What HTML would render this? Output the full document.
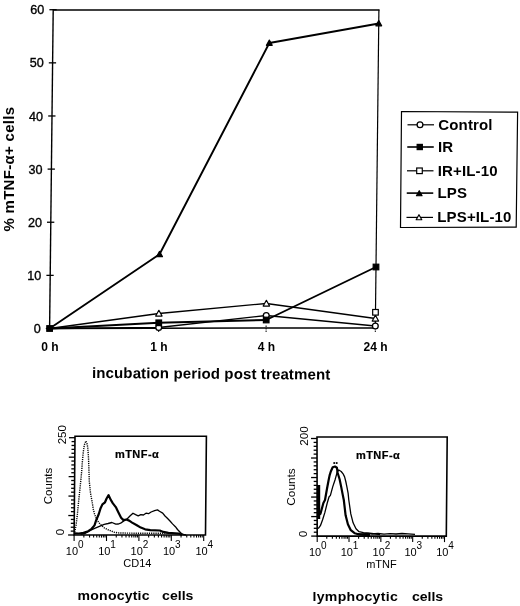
<!DOCTYPE html>
<html><head><meta charset="utf-8"><style>
html,body{margin:0;padding:0;background:#fff;}
body{width:520px;height:606px;overflow:hidden;}
svg{display:block;filter:grayscale(1);font-family:"Liberation Sans", sans-serif;}
</style></head><body>
<svg width="520" height="606" viewBox="0 0 520 606" fill="#000">
<line x1="53.21" y1="9.10" x2="49.60" y2="328.50" stroke="#000" stroke-width="1.4" />
<line x1="53.20" y1="10.00" x2="379.50" y2="10.00" stroke="#000" stroke-width="1.7" />
<line x1="378.90" y1="9.70" x2="375.30" y2="328.50" stroke="#000" stroke-width="1.2" />
<line x1="49.60" y1="328.50" x2="373.30" y2="327.90" stroke="#000" stroke-width="1.5" />
<line x1="45.80" y1="328.50" x2="53.10" y2="328.50" stroke="#000" stroke-width="1.3" />
<line x1="46.40" y1="275.37" x2="53.70" y2="275.37" stroke="#000" stroke-width="1.3" />
<line x1="47.00" y1="222.24" x2="54.30" y2="222.24" stroke="#000" stroke-width="1.3" />
<line x1="47.60" y1="169.11" x2="54.90" y2="169.11" stroke="#000" stroke-width="1.3" />
<line x1="48.20" y1="115.98" x2="55.50" y2="115.98" stroke="#000" stroke-width="1.3" />
<line x1="48.80" y1="62.85" x2="56.10" y2="62.85" stroke="#000" stroke-width="1.3" />
<line x1="49.40" y1="9.72" x2="56.70" y2="9.72" stroke="#000" stroke-width="1.3" />
<line x1="158.70" y1="325.50" x2="158.70" y2="332.50" stroke="#000" stroke-width="1.0" stroke-dasharray="1.5,1"/>
<line x1="266.10" y1="325.50" x2="266.10" y2="332.50" stroke="#000" stroke-width="1.0" stroke-dasharray="1.5,1"/>
<line x1="375.30" y1="325.50" x2="375.30" y2="332.50" stroke="#000" stroke-width="1.0" stroke-dasharray="1.5,1"/>
<polyline points="49.60,328.50 158.71,327.50 266.25,315.50 375.33,326.00" fill="none" stroke="#000" stroke-width="1.3" stroke-linejoin="round" />
<polyline points="49.60,328.50 158.87,313.50 266.38,303.50 375.41,318.50" fill="none" stroke="#000" stroke-width="1.3" stroke-linejoin="round" />
<polyline points="49.60,328.50 158.76,322.80 266.20,320.00 375.99,267.00" fill="none" stroke="#000" stroke-width="1.9" stroke-linejoin="round" />
<polyline points="49.60,328.50 159.54,254.30 269.33,43.00 378.75,23.50" fill="none" stroke="#000" stroke-width="1.9" stroke-linejoin="round" />
<circle cx="158.71" cy="327.50" r="2.9" fill="#fff" stroke="#000" stroke-width="1.3"/>
<circle cx="266.25" cy="315.50" r="2.9" fill="#fff" stroke="#000" stroke-width="1.3"/>
<circle cx="375.33" cy="326.00" r="2.9" fill="#fff" stroke="#000" stroke-width="1.3"/>
<polygon points="158.87,310.30 162.07,316.06 155.67,316.06" fill="#fff" stroke="#000" stroke-width="1.2" stroke-linejoin="round"/>
<polygon points="266.38,300.30 269.58,306.06 263.18,306.06" fill="#fff" stroke="#000" stroke-width="1.2" stroke-linejoin="round"/>
<polygon points="375.41,315.30 378.61,321.06 372.21,321.06" fill="#fff" stroke="#000" stroke-width="1.2" stroke-linejoin="round"/>
<rect x="155.96" y="320.00" width="5.6" height="5.6" fill="#000" stroke="#000" stroke-width="1.2"/>
<rect x="263.40" y="317.20" width="5.6" height="5.6" fill="#000" stroke="#000" stroke-width="1.2"/>
<rect x="373.19" y="264.20" width="5.6" height="5.6" fill="#000" stroke="#000" stroke-width="1.2"/>
<polygon points="159.54,251.40 162.44,256.62 156.64,256.62" fill="#000" stroke="#000" stroke-width="1.2" stroke-linejoin="round"/>
<polygon points="269.33,40.10 272.23,45.32 266.43,45.32" fill="#000" stroke="#000" stroke-width="1.2" stroke-linejoin="round"/>
<polygon points="378.75,20.60 381.65,25.82 375.85,25.82" fill="#000" stroke="#000" stroke-width="1.2" stroke-linejoin="round"/>
<rect x="372.68" y="309.50" width="5.6" height="5.6" fill="#fff" stroke="#000" stroke-width="1.2"/>
<rect x="46.80" y="325.70" width="5.6" height="5.6" fill="#000" stroke="#000" stroke-width="1.2"/>
<text x="40.70" y="333.10" text-anchor="end" font-size="12.6" stroke="#000" stroke-width="0.35">0</text>
<text x="41.30" y="279.97" text-anchor="end" font-size="12.6" stroke="#000" stroke-width="0.35">10</text>
<text x="41.90" y="226.84" text-anchor="end" font-size="12.6" stroke="#000" stroke-width="0.35">20</text>
<text x="42.50" y="173.71" text-anchor="end" font-size="12.6" stroke="#000" stroke-width="0.35">30</text>
<text x="43.10" y="120.58" text-anchor="end" font-size="12.6" stroke="#000" stroke-width="0.35">40</text>
<text x="43.70" y="67.45" text-anchor="end" font-size="12.6" stroke="#000" stroke-width="0.35">50</text>
<text x="44.30" y="14.32" text-anchor="end" font-size="12.6" stroke="#000" stroke-width="0.35">60</text>
<text x="49.90" y="351" text-anchor="middle" font-size="12" font-weight="bold">0 h</text>
<text x="159.00" y="351" text-anchor="middle" font-size="12" font-weight="bold">1 h</text>
<text x="266.40" y="351" text-anchor="middle" font-size="12" font-weight="bold">4 h</text>
<text x="375.60" y="351" text-anchor="middle" font-size="12" font-weight="bold">24 h</text>
<text x="92" y="378.75" transform="rotate(0.42 211 378.75)" font-size="15" font-weight="bold" letter-spacing="0.13">incubation period post treatment</text>
<text transform="translate(13.9,231.6) rotate(-90)" font-size="15" font-weight="bold" letter-spacing="0.3">% mTNF-α+ cells</text>
<polygon points="401.5,111.5 517.6,112.2 516.2,227.2 400.5,227.5" fill="none" stroke="#000" stroke-width="1.2"/>
<line x1="407.50" y1="124.80" x2="434.00" y2="124.80" stroke="#000" stroke-width="1.2" />
<circle cx="420.00" cy="124.80" r="2.9" fill="#fff" stroke="#000" stroke-width="1.3"/>
<text x="438.30" y="129.50" font-size="15" font-weight="bold" letter-spacing="0.15">Control</text>
<line x1="407.26" y1="147.00" x2="433.76" y2="147.00" stroke="#000" stroke-width="1.6" />
<rect x="417.16" y="144.40" width="5.2" height="5.2" fill="#000" stroke="#000" stroke-width="1.2"/>
<text x="438.06" y="151.70" font-size="15" font-weight="bold" letter-spacing="0.15">IR</text>
<line x1="406.99" y1="170.80" x2="433.49" y2="170.80" stroke="#000" stroke-width="1.2" />
<rect x="416.69" y="168.00" width="5.6" height="5.6" fill="#fff" stroke="#000" stroke-width="1.2"/>
<text x="437.79" y="175.50" font-size="15" font-weight="bold" letter-spacing="0.15">IR+IL-10</text>
<line x1="406.75" y1="193.10" x2="433.25" y2="193.10" stroke="#000" stroke-width="1.6" />
<polygon points="419.25,190.70 422.05,195.74 416.45,195.74" fill="#000" stroke="#000" stroke-width="1.2" stroke-linejoin="round"/>
<text x="437.55" y="197.80" font-size="15" font-weight="bold" letter-spacing="0.15">LPS</text>
<line x1="406.48" y1="217.40" x2="432.98" y2="217.40" stroke="#000" stroke-width="1.2" />
<polygon points="418.98,214.70 421.78,219.74 416.18,219.74" fill="#fff" stroke="#000" stroke-width="1.2" stroke-linejoin="round"/>
<text x="437.28" y="222.10" font-size="15" font-weight="bold" letter-spacing="0.15">LPS+IL-10</text>
<polygon points="75.00,436.2 206.40,436.2 205.50,535.0 74.10,535.0" fill="none" stroke="#000" stroke-width="1.6"/>
<line x1="68.10" y1="535.00" x2="74.10" y2="535.00" stroke="#000" stroke-width="1.3" />
<line x1="70.74" y1="531.11" x2="74.14" y2="531.11" stroke="#000" stroke-width="1.3" />
<line x1="70.77" y1="527.22" x2="74.17" y2="527.22" stroke="#000" stroke-width="1.3" />
<line x1="70.81" y1="523.32" x2="74.21" y2="523.32" stroke="#000" stroke-width="1.3" />
<line x1="70.84" y1="519.43" x2="74.24" y2="519.43" stroke="#000" stroke-width="1.3" />
<line x1="68.28" y1="515.54" x2="74.28" y2="515.54" stroke="#000" stroke-width="1.3" />
<line x1="70.91" y1="511.65" x2="74.31" y2="511.65" stroke="#000" stroke-width="1.3" />
<line x1="70.95" y1="507.76" x2="74.35" y2="507.76" stroke="#000" stroke-width="1.3" />
<line x1="70.98" y1="503.86" x2="74.38" y2="503.86" stroke="#000" stroke-width="1.3" />
<line x1="71.02" y1="499.97" x2="74.42" y2="499.97" stroke="#000" stroke-width="1.3" />
<line x1="68.45" y1="496.08" x2="74.45" y2="496.08" stroke="#000" stroke-width="1.3" />
<line x1="71.09" y1="492.19" x2="74.49" y2="492.19" stroke="#000" stroke-width="1.3" />
<line x1="71.13" y1="488.30" x2="74.53" y2="488.30" stroke="#000" stroke-width="1.3" />
<line x1="71.16" y1="484.40" x2="74.56" y2="484.40" stroke="#000" stroke-width="1.3" />
<line x1="71.20" y1="480.51" x2="74.60" y2="480.51" stroke="#000" stroke-width="1.3" />
<line x1="68.63" y1="476.62" x2="74.63" y2="476.62" stroke="#000" stroke-width="1.3" />
<line x1="71.27" y1="472.73" x2="74.67" y2="472.73" stroke="#000" stroke-width="1.3" />
<line x1="71.30" y1="468.84" x2="74.70" y2="468.84" stroke="#000" stroke-width="1.3" />
<line x1="71.34" y1="464.94" x2="74.74" y2="464.94" stroke="#000" stroke-width="1.3" />
<line x1="71.37" y1="461.05" x2="74.77" y2="461.05" stroke="#000" stroke-width="1.3" />
<line x1="68.81" y1="457.16" x2="74.81" y2="457.16" stroke="#000" stroke-width="1.3" />
<line x1="71.44" y1="453.27" x2="74.84" y2="453.27" stroke="#000" stroke-width="1.3" />
<line x1="71.48" y1="449.38" x2="74.88" y2="449.38" stroke="#000" stroke-width="1.3" />
<line x1="71.52" y1="445.48" x2="74.92" y2="445.48" stroke="#000" stroke-width="1.3" />
<line x1="71.55" y1="441.59" x2="74.95" y2="441.59" stroke="#000" stroke-width="1.3" />
<line x1="68.99" y1="437.70" x2="74.99" y2="437.70" stroke="#000" stroke-width="1.3" />
<line x1="74.10" y1="535.00" x2="74.10" y2="541.00" stroke="#000" stroke-width="1.1" />
<line x1="83.85" y1="535.00" x2="83.85" y2="537.60" stroke="#000" stroke-width="1.1" />
<line x1="89.56" y1="535.00" x2="89.56" y2="537.60" stroke="#000" stroke-width="1.1" />
<line x1="93.61" y1="535.00" x2="93.61" y2="537.60" stroke="#000" stroke-width="1.1" />
<line x1="96.75" y1="535.00" x2="96.75" y2="537.60" stroke="#000" stroke-width="1.1" />
<line x1="99.31" y1="535.00" x2="99.31" y2="537.60" stroke="#000" stroke-width="1.1" />
<line x1="101.48" y1="535.00" x2="101.48" y2="537.60" stroke="#000" stroke-width="1.1" />
<line x1="103.36" y1="535.00" x2="103.36" y2="537.60" stroke="#000" stroke-width="1.1" />
<line x1="105.02" y1="535.00" x2="105.02" y2="537.60" stroke="#000" stroke-width="1.1" />
<line x1="106.50" y1="535.00" x2="106.50" y2="541.00" stroke="#000" stroke-width="1.1" />
<line x1="116.25" y1="535.00" x2="116.25" y2="537.60" stroke="#000" stroke-width="1.1" />
<line x1="121.96" y1="535.00" x2="121.96" y2="537.60" stroke="#000" stroke-width="1.1" />
<line x1="126.01" y1="535.00" x2="126.01" y2="537.60" stroke="#000" stroke-width="1.1" />
<line x1="129.15" y1="535.00" x2="129.15" y2="537.60" stroke="#000" stroke-width="1.1" />
<line x1="131.71" y1="535.00" x2="131.71" y2="537.60" stroke="#000" stroke-width="1.1" />
<line x1="133.88" y1="535.00" x2="133.88" y2="537.60" stroke="#000" stroke-width="1.1" />
<line x1="135.76" y1="535.00" x2="135.76" y2="537.60" stroke="#000" stroke-width="1.1" />
<line x1="137.42" y1="535.00" x2="137.42" y2="537.60" stroke="#000" stroke-width="1.1" />
<line x1="138.90" y1="535.00" x2="138.90" y2="541.00" stroke="#000" stroke-width="1.1" />
<line x1="148.65" y1="535.00" x2="148.65" y2="537.60" stroke="#000" stroke-width="1.1" />
<line x1="154.36" y1="535.00" x2="154.36" y2="537.60" stroke="#000" stroke-width="1.1" />
<line x1="158.41" y1="535.00" x2="158.41" y2="537.60" stroke="#000" stroke-width="1.1" />
<line x1="161.55" y1="535.00" x2="161.55" y2="537.60" stroke="#000" stroke-width="1.1" />
<line x1="164.11" y1="535.00" x2="164.11" y2="537.60" stroke="#000" stroke-width="1.1" />
<line x1="166.28" y1="535.00" x2="166.28" y2="537.60" stroke="#000" stroke-width="1.1" />
<line x1="168.16" y1="535.00" x2="168.16" y2="537.60" stroke="#000" stroke-width="1.1" />
<line x1="169.82" y1="535.00" x2="169.82" y2="537.60" stroke="#000" stroke-width="1.1" />
<line x1="171.30" y1="535.00" x2="171.30" y2="541.00" stroke="#000" stroke-width="1.1" />
<line x1="181.05" y1="535.00" x2="181.05" y2="537.60" stroke="#000" stroke-width="1.1" />
<line x1="186.76" y1="535.00" x2="186.76" y2="537.60" stroke="#000" stroke-width="1.1" />
<line x1="190.81" y1="535.00" x2="190.81" y2="537.60" stroke="#000" stroke-width="1.1" />
<line x1="193.95" y1="535.00" x2="193.95" y2="537.60" stroke="#000" stroke-width="1.1" />
<line x1="196.51" y1="535.00" x2="196.51" y2="537.60" stroke="#000" stroke-width="1.1" />
<line x1="198.68" y1="535.00" x2="198.68" y2="537.60" stroke="#000" stroke-width="1.1" />
<line x1="200.56" y1="535.00" x2="200.56" y2="537.60" stroke="#000" stroke-width="1.1" />
<line x1="202.22" y1="535.00" x2="202.22" y2="537.60" stroke="#000" stroke-width="1.1" />
<line x1="203.70" y1="535.00" x2="203.70" y2="541.00" stroke="#000" stroke-width="1.1" />
<text x="65.80" y="555.00" font-size="11">10</text>
<text x="77.90" y="547.80" font-size="10">0</text>
<text x="98.20" y="555.00" font-size="11">10</text>
<text x="110.30" y="547.80" font-size="10">1</text>
<text x="130.60" y="555.00" font-size="11">10</text>
<text x="142.70" y="547.80" font-size="10">2</text>
<text x="163.00" y="555.00" font-size="11">10</text>
<text x="175.10" y="547.80" font-size="10">3</text>
<text x="195.40" y="555.00" font-size="11">10</text>
<text x="207.50" y="547.80" font-size="10">4</text>
<text x="123.3" y="566.70" font-size="11">CD14</text>
<text transform="translate(65.60,434.70) rotate(-90)" text-anchor="middle" font-size="11.5">250</text>
<text transform="translate(63.70,532.00) rotate(-90)" text-anchor="middle" font-size="11.5">0</text>
<text transform="translate(52.40,486.00) rotate(-90)" text-anchor="middle" font-size="11.5">Counts</text>
<text transform="translate(115,458.00) scale(1.1,1)" font-size="10" font-weight="bold" letter-spacing="0.4" stroke="#000" stroke-width="0.2">mTNF-α</text>
<polygon points="317.00,437.0 447.20,437.0 446.30,536.1 317.20,536.1" fill="none" stroke="#000" stroke-width="1.6"/>
<line x1="311.20" y1="536.10" x2="317.20" y2="536.10" stroke="#000" stroke-width="1.3" />
<line x1="313.79" y1="532.20" x2="317.19" y2="532.20" stroke="#000" stroke-width="1.3" />
<line x1="313.78" y1="528.29" x2="317.18" y2="528.29" stroke="#000" stroke-width="1.3" />
<line x1="313.78" y1="524.39" x2="317.18" y2="524.39" stroke="#000" stroke-width="1.3" />
<line x1="313.77" y1="520.48" x2="317.17" y2="520.48" stroke="#000" stroke-width="1.3" />
<line x1="311.16" y1="516.58" x2="317.16" y2="516.58" stroke="#000" stroke-width="1.3" />
<line x1="313.75" y1="512.68" x2="317.15" y2="512.68" stroke="#000" stroke-width="1.3" />
<line x1="313.74" y1="508.77" x2="317.14" y2="508.77" stroke="#000" stroke-width="1.3" />
<line x1="313.74" y1="504.87" x2="317.14" y2="504.87" stroke="#000" stroke-width="1.3" />
<line x1="313.73" y1="500.96" x2="317.13" y2="500.96" stroke="#000" stroke-width="1.3" />
<line x1="311.12" y1="497.06" x2="317.12" y2="497.06" stroke="#000" stroke-width="1.3" />
<line x1="313.71" y1="493.16" x2="317.11" y2="493.16" stroke="#000" stroke-width="1.3" />
<line x1="313.71" y1="489.25" x2="317.11" y2="489.25" stroke="#000" stroke-width="1.3" />
<line x1="313.70" y1="485.35" x2="317.10" y2="485.35" stroke="#000" stroke-width="1.3" />
<line x1="313.69" y1="481.44" x2="317.09" y2="481.44" stroke="#000" stroke-width="1.3" />
<line x1="311.08" y1="477.54" x2="317.08" y2="477.54" stroke="#000" stroke-width="1.3" />
<line x1="313.67" y1="473.64" x2="317.07" y2="473.64" stroke="#000" stroke-width="1.3" />
<line x1="313.67" y1="469.73" x2="317.07" y2="469.73" stroke="#000" stroke-width="1.3" />
<line x1="313.66" y1="465.83" x2="317.06" y2="465.83" stroke="#000" stroke-width="1.3" />
<line x1="313.65" y1="461.92" x2="317.05" y2="461.92" stroke="#000" stroke-width="1.3" />
<line x1="311.04" y1="458.02" x2="317.04" y2="458.02" stroke="#000" stroke-width="1.3" />
<line x1="313.63" y1="454.12" x2="317.03" y2="454.12" stroke="#000" stroke-width="1.3" />
<line x1="313.63" y1="450.21" x2="317.03" y2="450.21" stroke="#000" stroke-width="1.3" />
<line x1="313.62" y1="446.31" x2="317.02" y2="446.31" stroke="#000" stroke-width="1.3" />
<line x1="313.61" y1="442.40" x2="317.01" y2="442.40" stroke="#000" stroke-width="1.3" />
<line x1="311.00" y1="438.50" x2="317.00" y2="438.50" stroke="#000" stroke-width="1.3" />
<line x1="317.20" y1="536.10" x2="317.20" y2="542.10" stroke="#000" stroke-width="1.1" />
<line x1="326.78" y1="536.10" x2="326.78" y2="538.70" stroke="#000" stroke-width="1.1" />
<line x1="332.38" y1="536.10" x2="332.38" y2="538.70" stroke="#000" stroke-width="1.1" />
<line x1="336.36" y1="536.10" x2="336.36" y2="538.70" stroke="#000" stroke-width="1.1" />
<line x1="339.44" y1="536.10" x2="339.44" y2="538.70" stroke="#000" stroke-width="1.1" />
<line x1="341.96" y1="536.10" x2="341.96" y2="538.70" stroke="#000" stroke-width="1.1" />
<line x1="344.10" y1="536.10" x2="344.10" y2="538.70" stroke="#000" stroke-width="1.1" />
<line x1="345.94" y1="536.10" x2="345.94" y2="538.70" stroke="#000" stroke-width="1.1" />
<line x1="347.57" y1="536.10" x2="347.57" y2="538.70" stroke="#000" stroke-width="1.1" />
<line x1="349.02" y1="536.10" x2="349.02" y2="542.10" stroke="#000" stroke-width="1.1" />
<line x1="358.61" y1="536.10" x2="358.61" y2="538.70" stroke="#000" stroke-width="1.1" />
<line x1="364.21" y1="536.10" x2="364.21" y2="538.70" stroke="#000" stroke-width="1.1" />
<line x1="368.19" y1="536.10" x2="368.19" y2="538.70" stroke="#000" stroke-width="1.1" />
<line x1="371.27" y1="536.10" x2="371.27" y2="538.70" stroke="#000" stroke-width="1.1" />
<line x1="373.79" y1="536.10" x2="373.79" y2="538.70" stroke="#000" stroke-width="1.1" />
<line x1="375.92" y1="536.10" x2="375.92" y2="538.70" stroke="#000" stroke-width="1.1" />
<line x1="377.77" y1="536.10" x2="377.77" y2="538.70" stroke="#000" stroke-width="1.1" />
<line x1="379.39" y1="536.10" x2="379.39" y2="538.70" stroke="#000" stroke-width="1.1" />
<line x1="380.85" y1="536.10" x2="380.85" y2="542.10" stroke="#000" stroke-width="1.1" />
<line x1="390.43" y1="536.10" x2="390.43" y2="538.70" stroke="#000" stroke-width="1.1" />
<line x1="396.03" y1="536.10" x2="396.03" y2="538.70" stroke="#000" stroke-width="1.1" />
<line x1="400.01" y1="536.10" x2="400.01" y2="538.70" stroke="#000" stroke-width="1.1" />
<line x1="403.09" y1="536.10" x2="403.09" y2="538.70" stroke="#000" stroke-width="1.1" />
<line x1="405.61" y1="536.10" x2="405.61" y2="538.70" stroke="#000" stroke-width="1.1" />
<line x1="407.75" y1="536.10" x2="407.75" y2="538.70" stroke="#000" stroke-width="1.1" />
<line x1="409.59" y1="536.10" x2="409.59" y2="538.70" stroke="#000" stroke-width="1.1" />
<line x1="411.22" y1="536.10" x2="411.22" y2="538.70" stroke="#000" stroke-width="1.1" />
<line x1="412.68" y1="536.10" x2="412.68" y2="542.10" stroke="#000" stroke-width="1.1" />
<line x1="422.26" y1="536.10" x2="422.26" y2="538.70" stroke="#000" stroke-width="1.1" />
<line x1="427.86" y1="536.10" x2="427.86" y2="538.70" stroke="#000" stroke-width="1.1" />
<line x1="431.84" y1="536.10" x2="431.84" y2="538.70" stroke="#000" stroke-width="1.1" />
<line x1="434.92" y1="536.10" x2="434.92" y2="538.70" stroke="#000" stroke-width="1.1" />
<line x1="437.44" y1="536.10" x2="437.44" y2="538.70" stroke="#000" stroke-width="1.1" />
<line x1="439.57" y1="536.10" x2="439.57" y2="538.70" stroke="#000" stroke-width="1.1" />
<line x1="441.42" y1="536.10" x2="441.42" y2="538.70" stroke="#000" stroke-width="1.1" />
<line x1="443.04" y1="536.10" x2="443.04" y2="538.70" stroke="#000" stroke-width="1.1" />
<line x1="444.50" y1="536.10" x2="444.50" y2="542.10" stroke="#000" stroke-width="1.1" />
<text x="308.90" y="556.10" font-size="11">10</text>
<text x="321.00" y="548.90" font-size="10">0</text>
<text x="340.72" y="556.10" font-size="11">10</text>
<text x="352.82" y="548.90" font-size="10">1</text>
<text x="372.55" y="556.10" font-size="11">10</text>
<text x="384.65" y="548.90" font-size="10">2</text>
<text x="404.38" y="556.10" font-size="11">10</text>
<text x="416.48" y="548.90" font-size="10">3</text>
<text x="436.20" y="556.10" font-size="11">10</text>
<text x="448.30" y="548.90" font-size="10">4</text>
<text x="366.2" y="567.80" font-size="11">mTNF</text>
<text transform="translate(308.20,436.00) rotate(-90)" text-anchor="middle" font-size="11.8">200</text>
<text transform="translate(306.50,534.00) rotate(-90)" text-anchor="middle" font-size="11.8">0</text>
<text transform="translate(295.40,487.00) rotate(-90)" text-anchor="middle" font-size="11.8">Counts</text>
<text transform="translate(356,458.80) scale(1.1,1)" font-size="10" font-weight="bold" letter-spacing="0.4" stroke="#000" stroke-width="0.2">mTNF-α</text>
<text transform="translate(77.6,600.3) scale(1.1,1)" font-size="12.8" font-weight="bold" letter-spacing="0.18">monocytic</text>
<text transform="translate(162.1,600.1) scale(1.1,1)" font-size="12.8" font-weight="bold" letter-spacing="0.0">cells</text>
<text transform="translate(312.5,600.8) scale(1.1,1)" font-size="12.8" font-weight="bold" letter-spacing="0.29">lymphocytic</text>
<text transform="translate(411.9,600.5) scale(1.1,1)" font-size="12.8" font-weight="bold" letter-spacing="0.0">cells</text>
<polyline points="74.60,534.50 74.90,531.20 76.00,525.40 77.20,516.20 78.30,504.60 79.50,493.10 80.70,481.50 81.80,470.00 82.30,462.40 83.30,452.00 84.30,445.00 85.90,441.00 87.30,444.50 87.90,449.20 88.50,458.00 88.80,466.00 89.30,481.50 90.50,493.10 92.20,502.30 93.30,509.20 94.50,513.80 96.20,518.50 98.50,522.00 100.40,524.40 104.20,527.80 109.00,530.20 113.80,532.10 117.70,532.90 126.30,533.10 140.00,533.30 172.00,533.20" fill="none" stroke="#000" stroke-width="1.4" stroke-linejoin="round" stroke-dasharray="1.2,1.0"/>
<polyline points="80.50,534.40 85.00,533.50 90.80,530.20 94.60,528.30 99.40,526.30 104.20,524.40 108.10,523.50 111.90,522.50 115.80,524.20 118.50,524.00 120.60,523.20 123.50,521.10 127.30,518.70 130.20,515.80 133.00,513.20 135.60,514.60 138.20,515.80 140.80,514.60 143.40,515.00 146.00,513.20 148.50,513.70 151.10,512.00 154.60,510.60 157.50,509.90 159.50,511.30 162.70,513.10 165.00,516.00 167.60,518.50 170.00,521.00 172.50,523.90 175.40,526.70 177.50,529.50 180.60,532.80 183.10,534.50 186.00,535.00" fill="none" stroke="#000" stroke-width="1.3" stroke-linejoin="round" />
<polyline points="74.50,533.30 78.90,533.50 83.50,532.90 88.20,531.20 91.60,528.80 94.50,525.40 96.20,520.20 98.80,514.00 100.60,508.20 102.40,504.40 105.00,502.30 106.60,498.50 108.60,495.10 110.50,499.40 112.90,503.30 115.80,507.10 118.70,512.90 121.10,517.70 123.50,520.10 126.30,519.50 129.20,520.60 132.10,522.60 136.40,525.00 140.80,527.60 145.10,529.30 150.30,530.20 159.80,530.50 163.30,531.90 168.40,532.80 178.80,533.60 182.30,535.00" fill="none" stroke="#000" stroke-width="2.2" stroke-linejoin="round" />
<polyline points="318.20,528.70 320.40,525.70 322.60,519.80 324.90,512.40 327.10,503.50 329.00,497.00 330.40,495.40 332.70,486.90 335.00,480.00 336.50,474.60 337.30,471.50 338.80,470.00 341.20,471.50 343.10,473.80 344.60,476.90 345.80,481.50 346.90,486.90 348.10,493.10 348.80,500.00 350.80,513.90 353.10,522.80 356.00,528.70 359.00,531.70 363.50,532.60 369.40,533.20 380.00,534.50" fill="none" stroke="#000" stroke-width="1.3" stroke-linejoin="round" />
<polyline points="318.20,484.90 318.40,500.00 318.60,515.00 320.40,513.90 323.40,503.00 325.00,500.00 326.90,489.20 328.50,480.80 329.60,475.40 330.80,471.50 332.70,467.30 335.00,466.50 336.90,467.70 337.70,473.00 339.60,479.20 341.20,486.90 342.70,494.60 343.80,500.00 345.60,515.30 347.90,524.30 350.80,530.20 354.60,533.20 360.50,534.70 370.00,535.20" fill="none" stroke="#000" stroke-width="2.2" stroke-linejoin="round" />
<rect x="316.9" y="485" width="3.3" height="34" fill="#000"/>
<polyline points="356.00,533.60 362.00,533.90 368.00,533.40 372.00,534.00 378.00,533.50 384.00,534.10 390.00,533.60 396.00,534.00 402.00,533.50 408.00,533.90 415.00,534.30" fill="none" stroke="#000" stroke-width="1.3" stroke-linejoin="round" />
<text x="333" y="465" font-size="7" font-weight="bold">••</text>
</svg>
</body></html>
